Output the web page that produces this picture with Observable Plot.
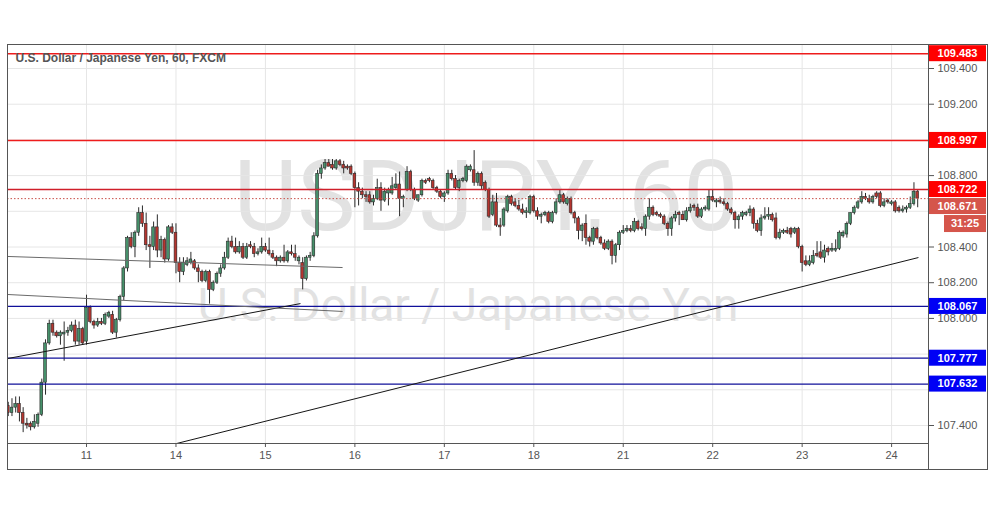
<!DOCTYPE html>
<html><head><meta charset="utf-8">
<script src="https://cdn.jsdelivr.net/npm/d3@7"></script>
<script src="https://cdn.jsdelivr.net/npm/@observablehq/plot@0.6"></script>
<style>
html,body{margin:0;padding:0;background:#fff;}
#chart{width:991px;height:507px;}
</style></head><body><div id="chart"></div>
<script>
// USD/JPY hourly candles, [open, high, low, close], one array per trading day (October 2019)
const oct10 = [
[107.51,107.53,107.45,107.47],[107.47,107.55,107.45,107.50],[107.50,107.56,107.47,107.52],[107.52,107.56,107.42,107.47],
[107.47,107.50,107.36,107.41],[107.41,107.44,107.38,107.40],[107.41,107.42,107.37,107.39],[107.39,107.46,107.38,107.42],
[107.41,107.47,107.39,107.46],[107.46,107.66,107.45,107.64],[107.64,107.88,107.57,107.86],[107.86,107.99,107.85,107.97],
[107.97,107.99,107.90,107.92],[107.92,107.93,107.89,107.90],[107.90,107.93,107.85,107.92],[107.91,107.98,107.76,107.92],
[107.92,107.95,107.90,107.93],[107.93,107.98,107.92,107.96],[107.96,107.99,107.85,107.87],[107.87,107.98,107.85,107.94],
[107.94,107.95,107.85,107.86]];
const oct11 = [
[107.87,108.13,107.85,108.06],[108.06,108.07,107.97,107.98],[107.98,107.99,107.94,107.96],[107.96,108.00,107.95,107.98],
[107.98,108.00,107.96,107.97],[107.97,108.03,107.96,108.02],[108.01,108.04,108.00,108.03],[108.02,108.04,107.91,107.92],
[107.92,108.00,107.89,107.99],[107.99,108.13,107.98,108.12],[108.12,108.29,108.10,108.28],[108.28,108.46,108.26,108.45],
[108.45,108.48,108.39,108.40],[108.40,108.49,108.34,108.48],[108.48,108.62,108.46,108.59],[108.59,108.63,108.51,108.53],
[108.53,108.59,108.38,108.41],[108.41,108.46,108.28,108.40],[108.40,108.54,108.38,108.51],[108.51,108.58,108.34,108.38],
[108.38,108.46,108.34,108.44],[108.44,108.45,108.31,108.33],[108.33,108.52,108.32,108.51],[108.51,108.53,108.47,108.48]];
const oct14 = [
[108.48,108.53,108.25,108.31],[108.31,108.34,108.20,108.26],[108.26,108.34,108.24,108.31],[108.30,108.34,108.29,108.32],
[108.31,108.37,108.30,108.33],[108.32,108.33,108.27,108.28],[108.28,108.30,108.20,108.26],[108.26,108.27,108.20,108.21],
[108.21,108.27,108.20,108.26],[108.26,108.27,108.08,108.16],[108.16,108.21,108.15,108.20],[108.20,108.26,108.19,108.25],
[108.25,108.30,108.23,108.28],[108.28,108.37,108.27,108.34],[108.34,108.45,108.33,108.43],[108.43,108.46,108.39,108.40],
[108.40,108.45,108.36,108.37],[108.37,108.43,108.36,108.40],[108.40,108.42,108.33,108.34],[108.34,108.42,108.33,108.40],
[108.41,108.43,108.39,108.40],[108.40,108.42,108.34,108.36],[108.36,108.39,108.35,108.37],[108.37,108.45,108.36,108.40]];
const oct15 = [
[108.40,108.42,108.37,108.38],[108.38,108.45,108.35,108.36],[108.36,108.38,108.33,108.34],[108.34,108.35,108.29,108.32],
[108.32,108.35,108.31,108.34],[108.34,108.41,108.31,108.32],[108.32,108.38,108.31,108.37],[108.37,108.41,108.35,108.36],
[108.36,108.41,108.32,108.34],[108.32,108.35,108.30,108.34],[108.31,108.34,108.16,108.22],[108.22,108.35,108.21,108.34],
[108.34,108.37,108.32,108.35],[108.35,108.48,108.34,108.46],[108.46,108.83,108.45,108.81],[108.81,108.86,108.78,108.84],
[108.84,108.89,108.83,108.87],[108.87,108.89,108.85,108.85],[108.86,108.89,108.83,108.84],[108.84,108.89,108.83,108.88],
[108.88,108.89,108.85,108.86],[108.86,108.88,108.81,108.84],[108.85,108.86,108.83,108.84],[108.85,108.86,108.80,108.81]];
const oct16 = [
[108.81,108.82,108.62,108.73],[108.73,108.76,108.63,108.71],[108.71,108.73,108.67,108.69],[108.69,108.71,108.65,108.68],
[108.69,108.71,108.64,108.65],[108.65,108.69,108.63,108.67],[108.67,108.78,108.66,108.73],[108.73,108.76,108.60,108.66],
[108.66,108.73,108.65,108.71],[108.70,108.73,108.63,108.72],[108.70,108.79,108.69,108.74],[108.73,108.81,108.72,108.75],
[108.75,108.82,108.57,108.67],[108.67,108.69,108.62,108.68],[108.72,108.85,108.71,108.82],[108.82,108.83,108.71,108.72],
[108.72,108.73,108.66,108.67],[108.66,108.69,108.65,108.69],[108.69,108.78,108.68,108.77],[108.77,108.78,108.75,108.76],
[108.78,108.79,108.76,108.77],[108.77,108.78,108.72,108.73],[108.73,108.74,108.70,108.71],[108.71,108.72,108.67,108.68]];
const oct17 = [
[108.68,108.71,108.65,108.70],[108.70,108.83,108.69,108.81],[108.81,108.83,108.77,108.78],[108.78,108.80,108.72,108.73],
[108.73,108.78,108.71,108.77],[108.77,108.79,108.76,108.78],[108.77,108.86,108.76,108.85],[108.83,108.86,108.82,108.85],
[108.83,108.94,108.74,108.76],[108.76,108.82,108.74,108.81],[108.81,108.82,108.72,108.74],[108.76,108.77,108.71,108.72],
[108.72,108.73,108.56,108.57],[108.58,108.69,108.57,108.65],[108.65,108.70,108.51,108.52],[108.52,108.56,108.46,108.51],
[108.52,108.62,108.51,108.61],[108.60,108.69,108.59,108.68],[108.68,108.69,108.63,108.64],[108.65,108.67,108.62,108.63],
[108.63,108.66,108.60,108.61],[108.61,108.64,108.58,108.59],[108.59,108.62,108.56,108.60],[108.59,108.69,108.58,108.68]];
const oct18 = [
[108.68,108.69,108.59,108.60],[108.60,108.62,108.55,108.57],[108.57,108.59,108.53,108.58],[108.58,108.60,108.57,108.59],
[108.59,108.60,108.53,108.54],[108.54,108.60,108.53,108.59],[108.59,108.67,108.58,108.65],[108.65,108.72,108.64,108.69],
[108.69,108.70,108.64,108.65],[108.64,108.68,108.63,108.67],[108.67,108.68,108.58,108.59],[108.59,108.60,108.53,108.56],
[108.56,108.57,108.44,108.49],[108.49,108.53,108.43,108.52],[108.53,108.58,108.41,108.45],[108.45,108.46,108.40,108.43],
[108.43,108.51,108.41,108.50],[108.50,108.51,108.44,108.45],[108.45,108.46,108.41,108.42],[108.42,108.44,108.38,108.39],
[108.39,108.44,108.38,108.43],[108.43,108.44,108.30,108.35],[108.35,108.42,108.31,108.41],[108.41,108.49,108.38,108.48]];
const oct21 = [
[108.48,108.52,108.47,108.49],[108.49,108.52,108.48,108.50],[108.50,108.52,108.48,108.49],[108.49,108.56,108.48,108.54],
[108.54,108.55,108.49,108.50],[108.51,108.53,108.49,108.50],[108.50,108.58,108.46,108.57],[108.57,108.67,108.55,108.62],
[108.62,108.63,108.57,108.58],[108.59,108.60,108.57,108.58],[108.58,108.59,108.56,108.57],[108.57,108.58,108.52,108.53],
[108.53,108.54,108.46,108.50],[108.50,108.57,108.46,108.56],[108.56,108.60,108.54,108.58],[108.59,108.60,108.52,108.58],
[108.58,108.60,108.55,108.55],[108.55,108.62,108.54,108.60],[108.60,108.64,108.59,108.62],[108.63,108.64,108.60,108.62],
[108.62,108.64,108.56,108.57],[108.57,108.62,108.56,108.61],[108.61,108.63,108.60,108.62],[108.61,108.72,108.60,108.68]];
const oct22 = [
[108.68,108.72,108.65,108.66],[108.65,108.67,108.62,108.66],[108.66,108.68,108.64,108.65],[108.65,108.67,108.63,108.64],
[108.64,108.65,108.60,108.61],[108.61,108.62,108.58,108.59],[108.59,108.60,108.50,108.55],[108.55,108.58,108.50,108.57],
[108.57,108.60,108.55,108.59],[108.58,108.60,108.57,108.59],[108.59,108.63,108.57,108.61],[108.61,108.62,108.50,108.53],
[108.53,108.55,108.48,108.49],[108.49,108.58,108.46,108.56],[108.56,108.62,108.55,108.57],[108.57,108.62,108.55,108.58],
[108.58,108.59,108.54,108.55],[108.56,108.59,108.44,108.45],[108.45,108.50,108.44,108.48],[108.48,108.50,108.47,108.49],
[108.49,108.51,108.47,108.48],[108.50,108.51,108.45,108.47],[108.48,108.51,108.47,108.50],[108.50,108.51,108.39,108.40]];
const oct23 = [
[108.40,108.41,108.26,108.31],[108.32,108.35,108.29,108.30],[108.30,108.35,108.29,108.32],[108.31,108.38,108.30,108.35],
[108.36,108.43,108.34,108.35],[108.37,108.43,108.33,108.34],[108.34,108.41,108.31,108.38],[108.39,108.40,108.35,108.37],
[108.38,108.42,108.37,108.39],[108.38,108.44,108.37,108.39],[108.39,108.49,108.38,108.48],[108.46,108.49,108.45,108.48],
[108.47,108.54,108.45,108.53],[108.53,108.59,108.52,108.59],[108.59,108.63,108.58,108.62],[108.62,108.66,108.61,108.65],
[108.65,108.71,108.64,108.68],[108.68,108.70,108.66,108.67],[108.67,108.69,108.64,108.65],[108.65,108.69,108.64,108.68],
[108.70,108.71,108.67,108.68],[108.70,108.71,108.62,108.63],[108.63,108.67,108.62,108.65],[108.66,108.67,108.64,108.65]];
const oct24 = [
[108.64,108.66,108.63,108.65],[108.65,108.66,108.59,108.60],[108.62,108.63,108.59,108.60],[108.60,108.63,108.59,108.61],
[108.61,108.63,108.59,108.62],[108.62,108.68,108.61,108.64],[108.64,108.76,108.63,108.71],[108.71,108.72,108.62,108.671]];

const dayLabels = ["10","11","14","15","16","17","18","21","22","23","24"];
const dayRows = [oct10, oct11, oct14, oct15, oct16, oct17, oct18, oct21, oct22, oct23, oct24];

// Horizontal levels drawn on the chart
const resistanceLevels = [109.483, 108.997];
const nearResistance = [108.722];
const supportLevels = [108.067, 107.777, 107.632];
const lastPrice = 108.671;
const countdown = "31:25";
const priceTicks = [107.4, 107.6, 107.8, 108.0, 108.2, 108.4, 108.6, 108.8, 109.0, 109.2, 109.4];
// tick labels left visible on the price scale (the others sit under the level labels)
const priceTickLabels = [107.4, 108.0, 108.2, 108.4, 108.8, 109.2, 109.4];

// Trend lines: anchor points as (candle index, price)
const trendLines = [
  {x1: 45.15, y1: 107.299, x2: 244.2, y2: 108.341, color: "#151515"},
  {x1: -0.2, y1: 107.775, x2: 78.4, y2: 108.083, color: "#151515"},
  {x1: -0.2, y1: 108.347, x2: 89.7, y2: 108.285, color: "#6a6a6a"},
  {x1: -0.2, y1: 108.134, x2: 89.7, y2: 108.039, color: "#6a6a6a"}
];

const title = "U.S. Dollar / Japanese Yen, 60, FXCM";
const watermark1 = "USDJPY, 60";
const watermark2 = "U.S. Dollar / Japanese Yen";

// ---- build table ----
const candles = [];
const dayStarts = [];
dayRows.forEach((rows, d) => {
  dayStarts.push({i: candles.length, label: dayLabels[d]});
  rows.forEach(r => candles.push({i: candles.length, open: r[0], high: r[1], low: r[2], close: r[3]}));
});
const tickDays = dayStarts.slice(1);
const labelOf = new Map(tickDays.map(d => [d.i, d.label]));

const UP = "#46906a", DOWN = "#b5352f", EDGE = "#2a2a2a";

const chart = Plot.plot({
  width: 991, height: 507,
  marginLeft: 7, marginRight: 63, marginTop: 44, marginBottom: 64,
  style: {background: "#fff", fontFamily: "Liberation Sans, Arial, sans-serif"},
  x: {type: "linear", domain: [-0.2, 246.9], axis: null},
  y: {domain: [107.2992, 109.5345], axis: null},
  color: {type: "identity"},
  marks: [
    Plot.text([watermark1], {text: d => d, frameAnchor: "middle", dx: 18, dy: -45, fontSize: 98, fontFamily: "Roboto", fill: "#e2e2e2"}),
    Plot.text([watermark2], {text: d => d, frameAnchor: "middle", dy: 62, fontSize: 46, fontFamily: "Roboto", fill: "#e2e2e2"}),
    Plot.gridY({ticks: priceTicks, stroke: "#e6e6e6", strokeOpacity: 1}),
    Plot.gridX({ticks: tickDays.map(d => d.i), stroke: "#e6e6e6", strokeOpacity: 1}),
    Plot.ruleX(candles, {x: "i", y1: "low", y2: "high", stroke: EDGE, strokeWidth: 1, clip: true}),
    Plot.rect(candles, {x1: d => d.i - 0.37, x2: d => d.i + 0.37, y1: "open", y2: "close",
      fill: d => d.close >= d.open ? UP : DOWN, stroke: EDGE, strokeWidth: 0.6, clip: true}),
    Plot.ruleY(resistanceLevels, {stroke: "#ee1c1c", strokeWidth: 1.5}),
    Plot.ruleY(nearResistance, {stroke: "#d01f2a", strokeWidth: 1.5}),
    Plot.ruleY(supportLevels, {stroke: "#10109a", strokeWidth: 1.3}),
    Plot.ruleY([lastPrice], {stroke: "#c8504a", strokeWidth: 1, strokeDasharray: "1.5,2"}),
    Plot.link(trendLines, {x1: "x1", y1: "y1", x2: "x2", y2: "y2", stroke: d => d.color, strokeWidth: 1, clip: true}),
    Plot.axisY({ticks: priceTicks, anchor: "right", tickFormat: d => priceTickLabels.includes(d) ? d.toFixed(3) : "",
      tickSize: 5, tickPadding: 4, fontSize: 11, color: "#555", label: null}),
    Plot.axisX({ticks: tickDays.map(d => d.i), anchor: "bottom", tickFormat: d => labelOf.get(d), tickSize: 4, tickPadding: 4,
      fontSize: 11, color: "#555", label: null}),
    Plot.frame({stroke: "#555"}),
    Plot.text([title], {text: d => d, frameAnchor: "top-left", dx: 8, dy: 9, fontSize: 12, fontWeight: "bold", fill: "#555"})
  ]
});
document.getElementById("chart").append(chart);

// ---- price labels on the right axis (positions from the y scale) ----
const svg = d3.select(chart);
const ys = chart.scale("y");
const axisX0 = 991 - 63;
svg.append("rect").attr("x", 7.5).attr("y", 44.5).attr("width", 980).attr("height", 425).attr("fill", "none").attr("stroke", "#555");
svg.append("line").attr("x1", axisX0 + 0.5).attr("x2", axisX0 + 0.5).attr("y1", 44).attr("y2", 470).attr("stroke", "#555");

const boxH = 16;
const labels = [
  ...[...resistanceLevels, ...nearResistance].map(v => ({v, fill: "#ff0000"})),
  {v: lastPrice, fill: "#d5554b", current: true},
  ...supportLevels.map(v => ({v, fill: "#0000f5"}))
].map(d => ({...d, y: ys.apply(d.v)})).sort((a, b) => a.y - b.y);
let prevBottom = -Infinity;
for (const d of labels) {
  d.cy = Math.max(d.y, prevBottom + 1 + boxH / 2);
  prevBottom = d.cy + boxH / 2;
  if (d.current) prevBottom += boxH + 1;
}
const g = svg.append("g").attr("font-family", "Liberation Sans, Arial, sans-serif").attr("font-weight", "bold").attr("font-size", 11);
for (const d of labels) {
  g.append("rect").attr("x", axisX0 + 1).attr("y", d.cy - boxH / 2).attr("width", 57).attr("height", boxH).attr("fill", d.fill);
  g.append("text").attr("x", axisX0 + 29.5).attr("y", d.cy).attr("dy", "0.35em").attr("text-anchor", "middle")
    .attr("fill", "#fff").text(d.v.toFixed(3));
  if (d.current) {
    const top = d.cy + boxH / 2 + 1;
    g.append("rect").attr("x", axisX0 + 16).attr("y", top).attr("width", 42).attr("height", boxH + 1).attr("fill", d.fill);
    g.append("text").attr("x", axisX0 + 37).attr("y", top + (boxH + 1) / 2).attr("dy", "0.35em").attr("text-anchor", "middle")
      .attr("fill", "#fff").text(countdown);
  }
}
</script>
</body></html>
